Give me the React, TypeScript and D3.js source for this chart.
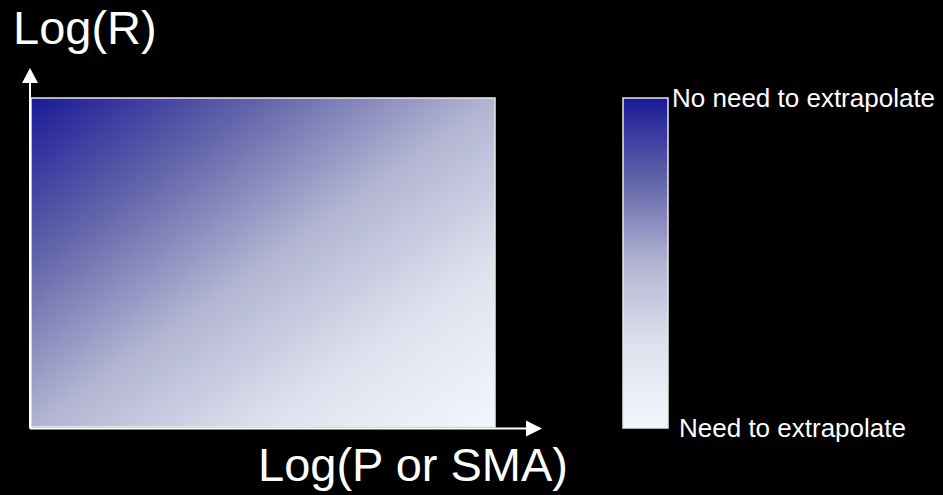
import React from "react";
import * as d3 from "d3";

const W = 943;
const H = 495;

// gradient stops (offset, colour)
const stopOffsets = [0, 0.25, 0.5, 0.75, 1];
const stopColors = ["#1a1a98", "#6264aa", "#b2b4d2", "#dee2ee", "#f2f7fe"];

const yAxisLabel = "Log(R)";
const xAxisLabel = "Log(P or SMA)";
const legendLabels = ["No need to extrapolate", "Need to extrapolate"];

export default function App() {
  React.useEffect(() => {
    document.body.style.margin = "0";
    document.body.style.background = "#000";
  }, []);

  // plot area scales
  const x = d3.scaleLinear().domain([0, 1]).range([31, 495]);
  const y = d3.scaleLinear().domain([0, 1]).range([427, 98]);
  // colour bar scale
  const cb = d3.scaleLinear().domain([0, 1]).range([428, 98]);
  const cbX0 = 623;
  const cbX1 = 668;

  const axX = 30;
  const axY = 428.5;

  const font = "Arial, 'Liberation Sans', sans-serif";

  return (
    <svg width={W} height={H} style={{ display: "block", background: "#000" }}>
      <defs>
        <linearGradient id="mainGrad" x1="0" y1="0" x2="1" y2="1">
          {stopOffsets.map((o, i) => (
            <stop key={i} offset={o} stopColor={stopColors[i]} />
          ))}
        </linearGradient>
        <linearGradient id="barGrad" x1="0" y1="0" x2="0" y2="1">
          {stopOffsets.map((o, i) => (
            <stop key={i} offset={o} stopColor={stopColors[i]} />
          ))}
        </linearGradient>
      </defs>
      <rect x={0} y={0} width={W} height={H} fill="#000" />

      {/* main field */}
      <rect
        x={x(0)}
        y={y(1)}
        width={x(1) - x(0)}
        height={y(0) - y(1)}
        fill="url(#mainGrad)"
        stroke="#e8e8e8"
        strokeWidth={1.5}
      />

      {/* axes */}
      <line x1={axX} y1={axY} x2={axX} y2={80} stroke="#fff" strokeWidth={2} />
      <path d={`M${axX - 8},${83} L${axX},${68} L${axX + 8},${83} Z`} fill="#fff" />
      <line x1={axX} y1={axY} x2={528} y2={axY} stroke="#fff" strokeWidth={2} />
      <path d={`M${526},${axY - 8} L${542},${axY} L${526},${axY + 8} Z`} fill="#fff" />

      {/* axis labels */}
      <text x={13} y={44} fill="#fff" fontFamily={font} fontSize={47}>
        {yAxisLabel}
      </text>
      <text x={258} y={481} fill="#fff" fontFamily={font} fontSize={47}>
        {xAxisLabel}
      </text>

      {/* colour bar */}
      <rect
        x={cbX0}
        y={cb(1)}
        width={cbX1 - cbX0}
        height={cb(0) - cb(1)}
        fill="url(#barGrad)"
        stroke="#e8e8e8"
        strokeWidth={1.5}
      />
      <text x={672} y={107} fill="#fff" fontFamily={font} fontSize={26}>
        {legendLabels[0]}
      </text>
      <text x={679} y={437} fill="#fff" fontFamily={font} fontSize={26}>
        {legendLabels[1]}
      </text>
    </svg>
  );
}
